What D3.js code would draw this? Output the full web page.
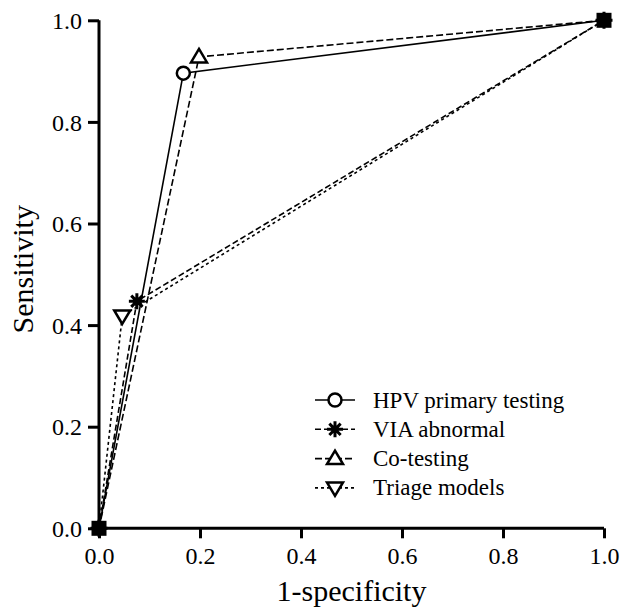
<!DOCTYPE html>
<html>
<head>
<meta charset="utf-8">
<script src="https://cdn.jsdelivr.net/npm/d3@7"></script>
<style>
  body { margin: 0; background: #fff; }
  text { font-family: "Liberation Serif", "Times New Roman", serif; fill: #000; }
</style>
</head>
<body>
<svg id="chart" width="621" height="609"></svg>
<script>
const seriesNames = ['HPV primary testing', 'VIA abnormal', 'Co-testing', 'Triage models'];
const hpvX = [0, 0.167, 1], hpvY = [0, 0.896, 1];
const viaX = [0, 0.075, 1], viaY = [0, 0.447, 1];
const coX = [0, 0.198, 1], coY = [0, 0.928, 1];
const triX = [0, 0.046, 1], triY = [0, 0.418, 1];
const tickVals = [0, 0.2, 0.4, 0.6, 0.8, 1.0];

const margin = {top: 20.3, left: 99};
const width = 505, height = 508;

const x = d3.scaleLinear().domain([0, 1]).range([0, width]);
const y = d3.scaleLinear().domain([0, 1]).range([height, 0]);

const svg = d3.select('#chart');
const chart = svg.append('g').attr('transform', `translate(${margin.left}, ${margin.top})`);

// star marker: 8 arms
function starPath(r) {
  let p = '';
  for (let i = 0; i < 4; i++) {
    const a = i * Math.PI / 4;
    p += `M${-r * Math.cos(a)},${-r * Math.sin(a)}L${r * Math.cos(a)},${r * Math.sin(a)}`;
  }
  return p;
}
const triUp = 'M0,-8L8,5.5L-8,5.5Z';
const triDown = 'M0,8L8,-5.5L-8,-5.5Z';

const series = [
  {name: seriesNames[0], xs: hpvX, ys: hpvY, dash: null, marker: 'circle'},
  {name: seriesNames[1], xs: viaX, ys: viaY, dash: '6,3', marker: 'star'},
  {name: seriesNames[2], xs: coX, ys: coY, dash: '7,3', marker: 'up'},
  {name: seriesNames[3], xs: triX, ys: triY, dash: '3,3', marker: 'down'}
];

function drawMarker(g, type) {
  if (type === 'circle') {
    g.append('circle').attr('r', 6.5).attr('fill', '#fff').attr('stroke', '#000').attr('stroke-width', 2.5);
  } else if (type === 'star') {
    g.append('path').attr('d', starPath(8)).attr('stroke', '#000').attr('stroke-width', 3).attr('fill', 'none');
    g.append('circle').attr('r', 3.5).attr('fill', '#000');
  } else if (type === 'blob') {
    // several markers stacked on one spot merge into a black block
    g.append('rect').attr('x', -7.5).attr('y', -7.5).attr('width', 15).attr('height', 15).attr('fill', '#000');
    g.append('path').attr('d', starPath(8.5)).attr('stroke', '#000').attr('stroke-width', 3);
  } else {
    g.append('path').attr('d', type === 'up' ? triUp : triDown)
      .attr('fill', '#fff').attr('stroke', '#000').attr('stroke-width', 2.5).attr('stroke-linejoin', 'miter');
  }
}

// axes
const xAxis = d3.axisBottom(x).tickValues(tickVals).tickFormat(d3.format('.1f')).tickSize(10).tickPadding(9);
const yAxis = d3.axisLeft(y).tickValues(tickVals).tickFormat(d3.format('.1f')).tickSize(11).tickPadding(6);

const gx = chart.append('g').attr('transform', `translate(0, ${height})`).call(xAxis);
const gy = chart.append('g').call(yAxis);
[gx, gy].forEach(g => {
  g.select('.domain').attr('stroke-width', 3).attr('d', g === gx ? `M0,0H${width}` : `M0,0V${height}`);
  g.selectAll('.tick line').attr('stroke-width', 3);
  g.selectAll('.tick text').style('font-size', '24px').style('font-family', '"Liberation Serif", serif');
});
gy.selectAll('.tick text').attr('dy', '0.34em');

// lines
const line = d3.line().x(d => x(d[0])).y(d => y(d[1]));
series.forEach(s => {
  const pts = s.xs.map((v, i) => [v, s.ys[i]]);
  chart.append('path').datum(pts).attr('d', line)
    .attr('fill', 'none').attr('stroke', '#000').attr('stroke-width', 1.6)
    .attr('stroke-dasharray', s.dash);
});

// markers; points shared by every series are drawn once as a merged block
const shared = (xv, yv) => series.every(s => s.xs.some((v, i) => v === xv && s.ys[i] === yv));
series.forEach(s => {
  s.xs.forEach((v, i) => {
    if (shared(v, s.ys[i])) return;
    const g = chart.append('g').attr('transform', `translate(${x(v)}, ${y(s.ys[i])})`);
    drawMarker(g, s.marker);
  });
});
hpvX.forEach((v, i) => {
  if (!shared(v, hpvY[i])) return;
  const g = chart.append('g').attr('transform', `translate(${x(v)}, ${y(hpvY[i])})`);
  drawMarker(g, 'blob');
});

// axis titles
svg.append('text').attr('x', margin.left + width / 2).attr('y', 601)
  .attr('text-anchor', 'middle').attr('font-size', 30).text('1-specificity');
svg.append('text').attr('transform', `translate(33, ${margin.top + height / 2 - 5}) rotate(-90)`)
  .attr('text-anchor', 'middle').attr('font-size', 30).text('Sensitivity');

// legend
const legend = svg.append('g').attr('transform', 'translate(315, 400)');
series.forEach((s, i) => {
  const row = legend.append('g').attr('transform', `translate(0, ${i * 29.3})`);
  row.append('line').attr('x1', 0).attr('x2', 40).attr('stroke', '#000')
    .attr('stroke-width', 1.6).attr('stroke-dasharray', s.dash);
  const m = row.append('g').attr('transform', 'translate(20, 0)');
  drawMarker(m, s.marker);
  row.append('text').attr('x', 58).attr('dy', '0.33em').attr('font-size', 23).text(s.name);
});
</script>
</body>
</html>
